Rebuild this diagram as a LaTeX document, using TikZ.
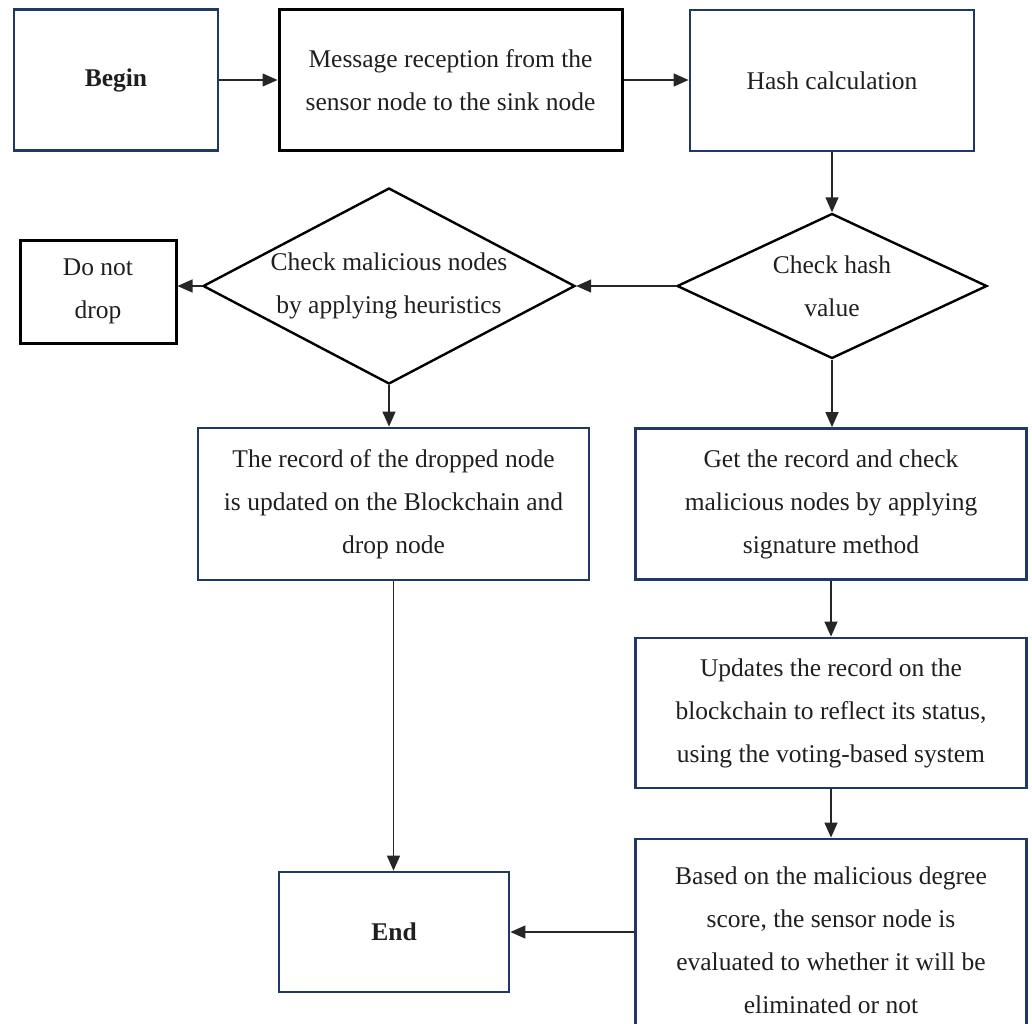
\documentclass[tikz,border=0pt]{standalone}
\usepackage{fontspec}
\setmainfont{Liberation Serif}
\usetikzlibrary{shapes.geometric,arrows.meta}
\definecolor{navy}{HTML}{1F3864}
\begin{document}
\begin{tikzpicture}[x=1pt,y=-1pt,
  every node/.style={font=\fontsize{25.5}{43}\selectfont, align=center, text=black!88},
  nbox/.style={draw=navy, line width=2.8pt, rectangle, inner sep=0pt},
  kbox/.style={draw=black, line width=3pt, rectangle, inner sep=0pt},
  dia/.style={draw=black, diamond, line width=2.4pt, inner xsep=0pt, inner ysep=-40pt},
  arr/.style={-{Triangle[length=15pt,width=13pt]}, line width=1.4pt, draw=black!85}
]
\useasboundingbox (0,0) rectangle (1032,1023);
\clip (0,0) rectangle (1032,1023);

\node[nbox, minimum width=204pt, minimum height=141pt] (begin) at (116,80) {\textbf{Begin}};
\node[kbox, minimum width=343pt, minimum height=141pt] (msg) at (450.5,80) {Message reception from the\\sensor node to the sink node};
\node[nbox, minimum width=284pt, minimum height=141pt] (hash) at (832,80.5) {Hash calculation};
\node[dia, minimum width=310pt, minimum height=145pt, aspect=2.14] (chk) at (832,286) {Check hash\\value};
\node[dia, minimum width=372pt, minimum height=196pt, aspect=1.9] (mal) at (389,286) {Check malicious nodes\\by applying heuristics};
\node[kbox, minimum width=156pt, minimum height=103pt] (dnd) at (98,291.5) {Do not\\drop};
\node[nbox, minimum width=391pt, minimum height=152pt] (drop) at (393.5,504) {The record of the dropped node\\is updated on the Blockchain and\\drop node};
\node[nbox, minimum width=391pt, minimum height=151pt] (rec) at (831,504) {Get the record and check\\malicious nodes by applying\\signature method};
\node[nbox, minimum width=391pt, minimum height=150pt] (upd) at (831,713) {Updates the record on the\\blockchain to reflect its status,\\using the voting-based system};
\node[nbox, minimum width=391pt, minimum height=202pt] (eval) at (831,940) {Based on the malicious degree\\score, the sensor node is\\evaluated to whether it will be\\eliminated or not};
\node[nbox, minimum width=230pt, minimum height=120pt] (end) at (394,932) {\textbf{End}};

\draw[arr] (begin.east) -- (begin.east -| msg.west);
\draw[arr] (msg.east) -- (msg.east -| hash.west);
\draw[arr] (hash.south -| chk.north) -- (chk.north);
\draw[arr] (chk.west) -- (chk.west -| mal.east);
\draw[arr] (mal.west) -- (mal.west -| dnd.east);
\draw[arr] (mal.south) -- (mal.south |- drop.north);
\draw[arr] (chk.south) -- (chk.south |- rec.north);
\draw[arr] (rec.south) -- (upd.north);
\draw[arr] (upd.south) -- (eval.north);
\draw[arr] (drop.south) -- (drop.south |- end.north);
\draw[arr] (end.east -| eval.west) -- (end.east);
\end{tikzpicture}
\end{document}
